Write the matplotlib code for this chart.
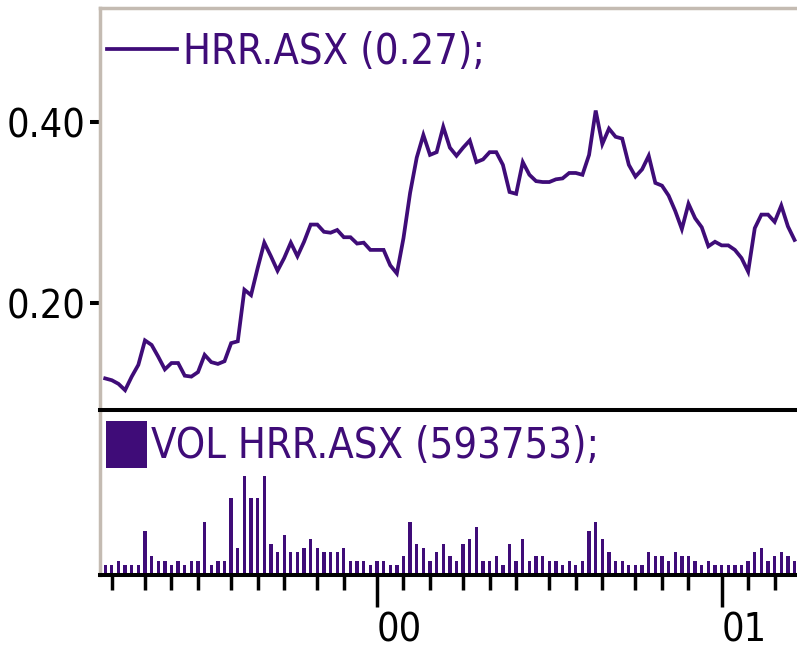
import matplotlib
matplotlib.use('Agg')
import matplotlib.pyplot as plt
import matplotlib.dates as mdates
from matplotlib import font_manager as fm
from matplotlib.ticker import FixedLocator, FuncFormatter, NullLocator
import pandas as pd

# ---------------- data ----------------
START = '1999-03-26'
N_WEEKS = 105
dates = pd.date_range(START, periods=N_WEEKS, freq='W-FRI')

price = [0.117, 0.115, 0.111, 0.104, 0.119, 0.132, 0.159, 0.154, 0.141, 0.127,
         0.134, 0.134, 0.120, 0.119, 0.124, 0.143, 0.135, 0.133, 0.136, 0.156,
         0.158, 0.215, 0.209, 0.239, 0.267, 0.252, 0.236, 0.250, 0.267, 0.252,
         0.268, 0.287, 0.287, 0.279, 0.278, 0.281, 0.273, 0.273, 0.266, 0.267,
         0.259, 0.259, 0.259, 0.242, 0.233, 0.272, 0.322, 0.361, 0.386, 0.364,
         0.367, 0.395, 0.372, 0.363, 0.372, 0.380, 0.356, 0.359, 0.367, 0.367,
         0.353, 0.323, 0.321, 0.356, 0.342, 0.335, 0.334, 0.334, 0.337, 0.338,
         0.344, 0.344, 0.342, 0.364, 0.413, 0.376, 0.393, 0.384, 0.382, 0.353,
         0.340, 0.348, 0.363, 0.333, 0.330, 0.319, 0.302, 0.282, 0.310, 0.294,
         0.284, 0.263, 0.268, 0.264, 0.264, 0.259, 0.250, 0.235, 0.283, 0.298,
         0.298, 0.290, 0.308, 0.285, 0.270]

volume = [391000, 391000, 594000, 391000, 391000, 391000, 2116000, 848000, 594000, 594000,
          391000, 594000, 391000, 594000, 594000, 2573000, 391000, 594000, 594000, 3806000,
          1254000, 4907000, 3806000, 3806000, 4907000, 1457000, 1051000, 1913000, 1051000, 1051000,
          1254000, 1710000, 1254000, 1051000, 1051000, 1051000, 1254000, 594000, 594000, 594000,
          391000, 594000, 594000, 391000, 391000, 848000, 2573000, 1457000, 1254000, 594000,
          1051000, 1457000, 848000, 594000, 1457000, 1710000, 2319000, 594000, 594000, 848000,
          391000, 1457000, 594000, 1710000, 594000, 848000, 848000, 594000, 594000, 391000,
          594000, 391000, 594000, 2116000, 2573000, 1710000, 1051000, 594000, 594000, 391000,
          391000, 391000, 1051000, 848000, 848000, 594000, 1051000, 848000, 848000, 594000,
          391000, 594000, 391000, 391000, 391000, 391000, 391000, 594000, 1051000, 1254000,
          594000, 848000, 1051000, 848000, 593753]

TICKER = 'HRR.ASX'
price_label = f'{TICKER} ({price[-1]:.2f});'
volume_label = f'VOL {TICKER} ({volume[-1]});'
y_ticks = [0.20, 0.40]

# ---------------- style ----------------
PURPLE = '#3f0c78'
GRAY = '#c4bbb2'

names = {f.name for f in fm.fontManager.ttflist}
cond = any(f.name == 'DejaVu Sans' and f.stretch == 'condensed' for f in fm.fontManager.ttflist)
if 'Liberation Sans Narrow' in names:
    FONT, STRETCH, SC = 'Liberation Sans Narrow', 'normal', 1.0
elif cond:
    FONT, STRETCH, SC = 'DejaVu Sans', 'condensed', 0.8
else:
    FONT, STRETCH, SC = 'DejaVu Sans', 'normal', 0.72

plt.rcParams['font.family'] = [FONT, 'DejaVu Sans']
plt.rcParams['font.stretch'] = STRETCH
FS_LEG = 37.4 * SC          # points
FS_TICK = 35.5 * SC
FS_LEG_PX = FS_LEG / 0.72

W, H = 797, 659
fig = plt.figure(figsize=(W / 100, H / 100), dpi=100)
fig.patch.set_facecolor('white')

def rect(l, t, r, b):
    return [l / W, 1 - b / H, (r - l) / W, (b - t) / H]

ax1 = fig.add_axes(rect(100, 8, 797, 410))
ax2 = fig.add_axes(rect(100, 410, 797, 575), sharex=ax1)
ax1.set_zorder(2)
ax2.set_zorder(1)

xnum = mdates.date2num(dates.to_pydatetime())

ln, = ax1.plot(xnum, price, color=PURPLE, lw=2.7, solid_joinstyle='miter')
bars = ax2.bar(xnum, volume, width=3.5, color=PURPLE, linewidth=0)

ax1.set_xlim(xnum[0] - 5.5, xnum[-1] + 2.6)
ax1.set_ylim(0.0821, 0.5263)
k = 50750
ax2.set_ylim(-2 * k, 163 * k)

# spines
for ax in (ax1, ax2):
    ax.spines['right'].set_visible(False)
    ax.spines['left'].set_color(GRAY)
    ax.spines['left'].set_linewidth(2.5)
    ax.spines['bottom'].set_color('black')
    ax.spines['bottom'].set_linewidth(2.9)
    ax.set_facecolor('white')
ax1.spines['top'].set_color(GRAY)
ax1.spines['top'].set_linewidth(2.5)
ax2.spines['top'].set_visible(False)
ax1.spines['bottom'].set_zorder(5)

# y ticks top panel
ax1.yaxis.set_major_locator(FixedLocator(y_ticks))
ax1.yaxis.set_major_formatter(FuncFormatter(lambda v, p: f'{v:.2f}'))
ax1.tick_params(axis='y', direction='out', length=7.2, width=2.9, color='black',
                labelsize=FS_TICK, pad=3, labelcolor='black')
ax1.tick_params(axis='x', which='both', bottom=False, labelbottom=False)
ax2.tick_params(axis='y', left=False, labelleft=False)
ax2.yaxis.set_major_locator(NullLocator())

# x ticks: first weekly bar of each month
s = pd.Series(dates)
firsts = [d for d in s.groupby([s.dt.year, s.dt.month]).first() if d.day <= 7]
major = [mdates.date2num(d.to_pydatetime()) for d in firsts if d.month == 1]
minor = [mdates.date2num(d.to_pydatetime()) for d in firsts if d.month != 1]
ax2.xaxis.set_major_locator(FixedLocator(major))
ax2.xaxis.set_minor_locator(FixedLocator(minor))
ax2.xaxis.set_major_formatter(FuncFormatter(lambda v, p: mdates.num2date(v).strftime('%y')))
ax2.tick_params(axis='x', which='major', direction='out', length=23, width=2.5,
                color='black', labelsize=FS_TICK, pad=3, labelcolor='black')
ax2.tick_params(axis='x', which='minor', direction='out', length=10.8, width=2.5, color='black')
plt.setp(ax2.get_xticklabels(), ha='left')

# legends
ax1.legend([ln], [price_label], loc='upper left',
           bbox_to_anchor=(107 / W, 1 - 31 / H), bbox_transform=fig.transFigure,
           frameon=False, borderpad=0, borderaxespad=0, handlelength=70 / FS_LEG_PX,
           handletextpad=6 / FS_LEG_PX, fontsize=FS_LEG, labelcolor=PURPLE)
ax2.legend([bars], [volume_label], loc='upper left',
           bbox_to_anchor=(106 / W, 1 - 421 / H), bbox_transform=fig.transFigure,
           frameon=False, borderpad=0, borderaxespad=0, handlelength=41 / FS_LEG_PX,
           handleheight=1.37, handletextpad=4 / FS_LEG_PX, fontsize=FS_LEG, labelcolor=PURPLE)

fig.savefig('out.png', dpi=100, facecolor='white')
